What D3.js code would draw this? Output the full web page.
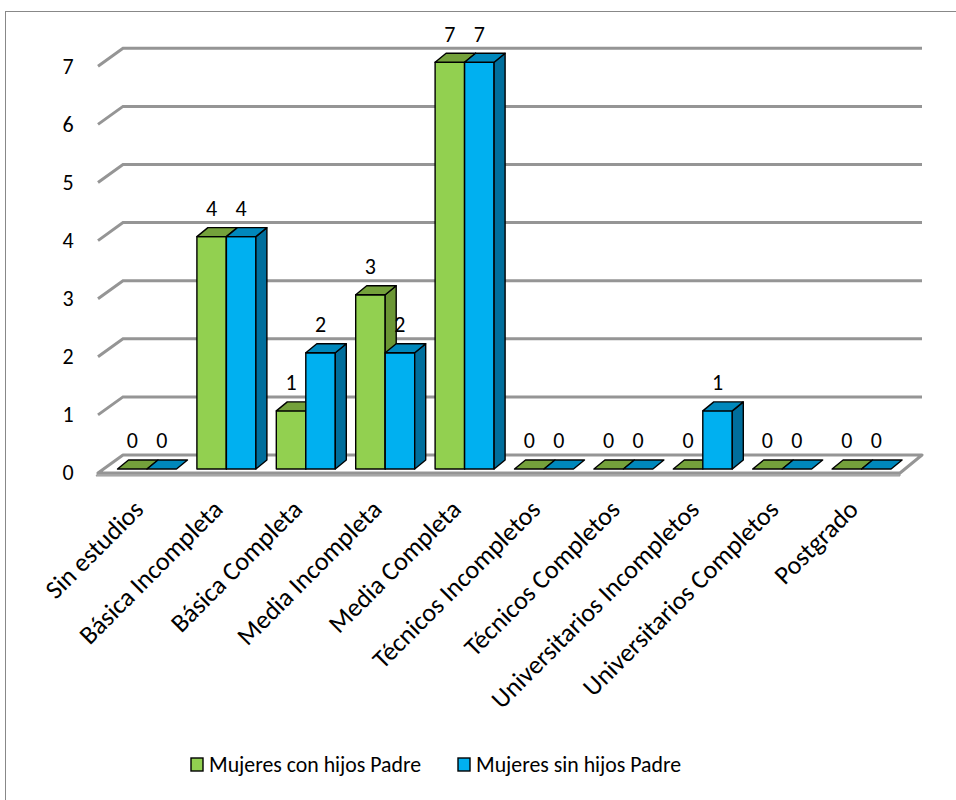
<!DOCTYPE html>
<html><head><meta charset="utf-8">
<script src="https://cdn.jsdelivr.net/npm/d3@7"></script>
<style>body{margin:0;background:#fff}</style>
</head><body>
<svg id="c" width="956" height="800"></svg>
<script>
const categories = ["Sin estudios","Básica Incompleta","Básica Completa","Media Incompleta","Media Completa","Técnicos Incompletos","Técnicos Completos","Universitarios Incompletos","Universitarios Completos","Postgrado"];
const seriesNames = ["Mujeres con hijos Padre","Mujeres sin hijos Padre"];
const conHijos = [0,4,1,3,7,0,0,0,0,0];
const sinHijos = [0,4,2,2,7,0,0,1,0,0];
const yTicks = [0,1,2,3,4,5,6,7];

const FONT = "Carlito, Lato, 'Open Sans', sans-serif";
const colors = [
  {front:"#92D050", top:"#74A13B", side:"#6B9634"},
  {front:"#00B0F0", top:"#0088BC", side:"#006E9C"}
];
const svg = d3.select("#c");
svg.append("rect").attr("x",5.5).attr("y",11.5).attr("width",960).attr("height",800)
  .attr("fill","#fff").attr("stroke","#888").attr("stroke-width",1);

const wallDX = 25, wallDY = 18;
const barDX = 11, barDY = 9;

const yFront = d3.scaleLinear().domain([0,7]).range([473, 66.3]);
const yBack  = d3.scaleLinear().domain([0,7]).range([455, 48.3]);
const yBar   = d3.scaleLinear().domain([0,7]).range([469, 62.3]);

const floorX0 = 98, floorX1 = 900;
const x = d3.scaleBand().domain(categories).range([97.1, 911.5]).padding(0.257);
const xs = d3.scaleBand().domain(seriesNames).range([0, x.bandwidth()]);

const g = svg.append("g");
yTicks.filter(v=>v>0).forEach(v=>{
  g.append("path")
   .attr("d", `M${floorX0},${yFront(v)} L${floorX0+wallDX},${yBack(v)} L${floorX1+wallDX-3},${yBack(v)}`)
   .attr("fill","none").attr("stroke","#959595").attr("stroke-width",3);
});
g.append("path")
  .attr("d", `M${floorX0},${yFront(0)} L${floorX1},${yFront(0)} L${floorX1},${yFront(0)+3} L${floorX0-2},${yFront(0)+3} Z`)
  .attr("fill","#b4b4b4").attr("stroke","#9a9a9a").attr("stroke-width",1);
g.append("path")
  .attr("d", `M${floorX0},${yFront(0)} L${floorX1},${yFront(0)} L${floorX1+wallDX-3},${yBack(0)} L${floorX0+wallDX},${yBack(0)} Z`)
  .attr("fill","#fff").attr("stroke","#959595").attr("stroke-width",3).attr("stroke-linejoin","round");

svg.append("g").selectAll("text").data(yTicks).join("text")
  .attr("x",68).attr("y",v=>yFront(v)+2).attr("text-anchor","middle")
  .attr("dominant-baseline","middle").attr("font-family",FONT).attr("font-size",22)
  .attr("fill","#000").text(d=>d);

const data = [conHijos, sinHijos];
const bars = svg.append("g");
categories.forEach((c,i)=>{
  data.forEach((vals,s)=>{
    const v = vals[i];
    const x0 = x(c)+xs(seriesNames[s]);
    const x1 = x0 + xs.bandwidth();
    const yb = yBar(0), yt = yBar(v);
    const col = colors[s];
    const gg = bars.append("g").attr("stroke","#000").attr("stroke-width",1.4).attr("stroke-linejoin","round");
    if (v > 0) {
      gg.append("path").attr("fill",col.front)
        .attr("d",`M${x0},${yb} L${x1},${yb} L${x1},${yt} L${x0},${yt} Z`);
      gg.append("path").attr("fill",col.side)
        .attr("d",`M${x1},${yb} L${x1+barDX},${yb-barDY} L${x1+barDX},${yt-barDY} L${x1},${yt} Z`);
    }
    gg.append("path").attr("fill",col.top)
      .attr("d",`M${x0},${yt} L${x1},${yt} L${x1+barDX},${yt-barDY} L${x0+barDX},${yt-barDY} Z`);
    svg.append("text").attr("x",(x0+x1)/2).attr("y",yt-26)
      .attr("text-anchor","middle").attr("dominant-baseline","middle")
      .attr("font-family",FONT).attr("font-size",22).attr("fill","#000").text(v);
  });
});

svg.append("g").selectAll("text").data(categories).join("text")
  .attr("transform",c=>`translate(${x(c)+x.bandwidth()/2-2},511) rotate(-45)`)
  .attr("text-anchor","end").attr("font-family",FONT).attr("font-size",26)
  .attr("fill","#000").text(d=>d);

const leg = svg.append("g");
const legX = [191, 458];
seriesNames.forEach((n,s)=>{
  leg.append("rect").attr("x",legX[s]).attr("y",758).attr("width",12).attr("height",13)
    .attr("fill",colors[s].front).attr("stroke","#000").attr("stroke-width",1.4);
  leg.append("text").attr("x",legX[s]+18).attr("y",772).attr("font-family",FONT)
    .attr("font-size",21.8).attr("fill","#000").text(n);
});
</script>
</body></html>
